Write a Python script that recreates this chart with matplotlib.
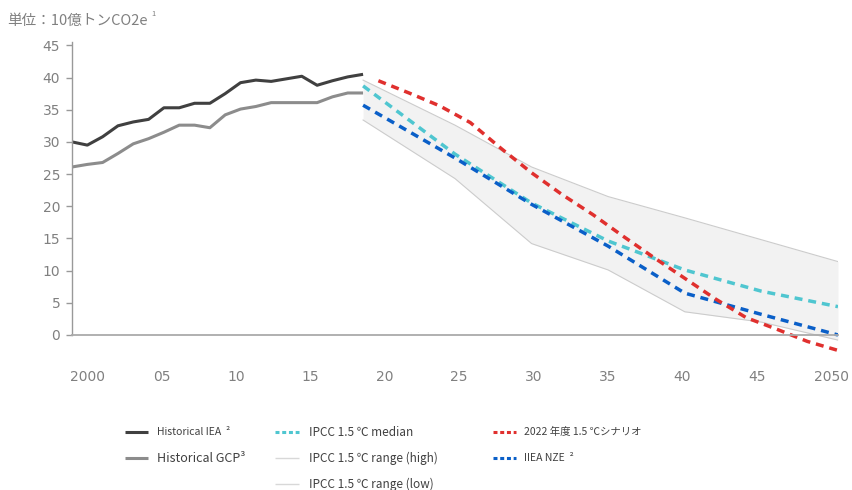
import matplotlib
matplotlib.use('Agg')
import matplotlib.pyplot as plt
import matplotlib.transforms as mtransforms
from matplotlib.lines import Line2D

plt.rcParams['font.family'] = ['Noto Sans CJK JP', 'DejaVu Sans']

# 1. データ
hist_years = list(range(2000, 2020))
hist_iea = [30.0, 29.5, 30.8, 32.5, 33.1, 33.5, 35.3, 35.3, 36.0, 36.0,
            37.5, 39.2, 39.6, 39.4, 39.8, 40.2, 38.8, 39.5, 40.1, 40.5]
hist_gcp = [26.1, 26.5, 26.8, 28.2, 29.7, 30.5, 31.5, 32.6, 32.6, 32.2,
            34.2, 35.1, 35.5, 36.1, 36.1, 36.1, 36.1, 37.0, 37.6, 37.6]

ipcc_years = [2019, 2025, 2030, 2035, 2040, 2045, 2050]
ipcc_median = [38.7, 28.1, 20.5, 14.6, 10.1, 6.8, 4.4]
ipcc_high = [39.6, 32.6, 26.1, 21.5, 18.2, 14.8, 11.4]
ipcc_low = [33.4, 24.3, 14.2, 10.1, 3.6, 2.0, -0.8]
nze = [35.7, 27.5, 20.3, 13.8, 6.5, 3.2, 0.0]

scen_years = [2020, 2022, 2024, 2026, 2028, 2030, 2032, 2034, 2036, 2038,
              2040, 2042, 2044, 2046, 2048, 2050]
scen_2022 = [39.5, 37.6, 35.6, 33.0, 29.0, 25.2, 21.8, 18.7, 15.3, 12.0,
             8.8, 5.6, 2.7, 0.9, -1.0, -2.4]

xticks = [2000, 2005, 2010, 2015, 2020, 2025, 2030, 2035, 2040, 2045, 2050]
xlabels = ['2000', '05', '10', '15', '20', '25', '30', '35', '40', '45', '2050']
yticks = [0, 5, 10, 15, 20, 25, 30, 35, 40, 45]

c_iea = '#404040'
c_gcp = '#8c8c8c'
c_med = '#4fc6d0'
c_red = '#e0302e'
c_blue = '#0a5fc8'
c_band = '#f2f2f2'
c_edge = '#cccccc'
c_text = '#808080'
dash = (0, (2.3, 1.7))

# 2. 描画
fig = plt.figure(figsize=(8.53, 4.9), dpi=100)
ax = fig.add_axes([0.0844, 0.277, 0.898, 0.637])

ax.fill_between(ipcc_years, ipcc_low, ipcc_high, color=c_band, lw=0)
ax.plot(ipcc_years, ipcc_high, color=c_edge, lw=0.8)
ax.plot(ipcc_years, ipcc_low, color=c_edge, lw=0.8)

ax.plot(hist_years, hist_iea, color=c_iea, lw=2.2, solid_capstyle='butt')
ax.plot(hist_years, hist_gcp, color=c_gcp, lw=2.2, solid_capstyle='butt')
ax.plot(ipcc_years, ipcc_median, color=c_med, lw=2.5, linestyle=dash)
ax.plot(ipcc_years, nze, color=c_blue, lw=2.5, linestyle=dash)
ax.plot(scen_years, scen_2022, color=c_red, lw=2.5, linestyle=dash)

ax.set_xlim(2000, 2050)
ax.set_ylim(-3, 45.5)
ax.spines['top'].set_visible(False)
ax.spines['right'].set_visible(False)
ax.spines['bottom'].set_position(('data', 0))
ax.spines['bottom'].set_color('#aaaaaa')
ax.spines['bottom'].set_linewidth(1.3)
ax.spines['left'].set_color('#999999')
ax.spines['left'].set_linewidth(1.0)
ax.spines['left'].set_bounds(0, 45.5)

ax.set_yticks(yticks)
ax.set_xticks(xticks)
ax.set_xticklabels(xlabels)
ax.tick_params(axis='y', colors='#999999', labelcolor=c_text, labelsize=10,
               length=4.5, width=1.0, pad=4)
ax.tick_params(axis='x', labelcolor=c_text, labelsize=10, length=0, pad=25)
for lab in ax.get_xticklabels() + ax.get_yticklabels():
    lab.set_family('DejaVu Sans')

# x目盛ラベルの位置を少しずらす（元図は等間隔が少し狭い）
for k, lab in enumerate(ax.get_xticklabels()):
    dx = (11 - 1.6 * k) / 72
    lab.set_transform(lab.get_transform() +
                      mtransforms.ScaledTranslation(dx, 0, fig.dpi_scale_trans))

fig.text(0.008, 0.958, '単位：10億トンCO2e', color=c_text, fontsize=10.5,
         va='center', ha='left')
fig.text(0.178, 0.972, '1', color=c_text, fontsize=5.5, va='center', ha='left')

# 3. 凡例（手動）
def legend_item(x0, x1, xt, y, color, text, ls='-', lw=2.2, size=8.5):
    fy = 1 - y / 490
    fig.add_artist(Line2D([x0 / 853, x1 / 853], [fy, fy], color=color, lw=lw,
                          linestyle=ls, solid_capstyle='butt'))
    fig.text(xt / 853, fy, text, color='#404040', fontsize=size,
             va='center', ha='left')

legend_item(125, 148, 157, 432, c_iea, 'Historical IEA  ²', size=7.5)
legend_item(125, 148, 157, 458, c_gcp, 'Historical GCP³', size=9)
legend_item(275, 299, 309, 432, c_med, 'IPCC 1.5 ℃ median', ls=(0, (1.3, 0.9)), size=8.5)
legend_item(275, 299, 309, 458, '#d8d8d8', 'IPCC 1.5 ℃ range (high)', lw=1.0, size=8.5)
legend_item(275, 299, 309, 484, '#d8d8d8', 'IPCC 1.5 ℃ range (low)', lw=1.0, size=8.5)
legend_item(493, 516, 524, 432, c_red, '2022 年度 1.5 ℃シナリオ', ls=(0, (1.3, 0.9)), size=7.5)
legend_item(493, 516, 524, 458, c_blue, 'IIEA NZE  ²', ls=(0, (1.3, 0.9)), size=7.5)

plt.savefig('out.png', dpi=100)
